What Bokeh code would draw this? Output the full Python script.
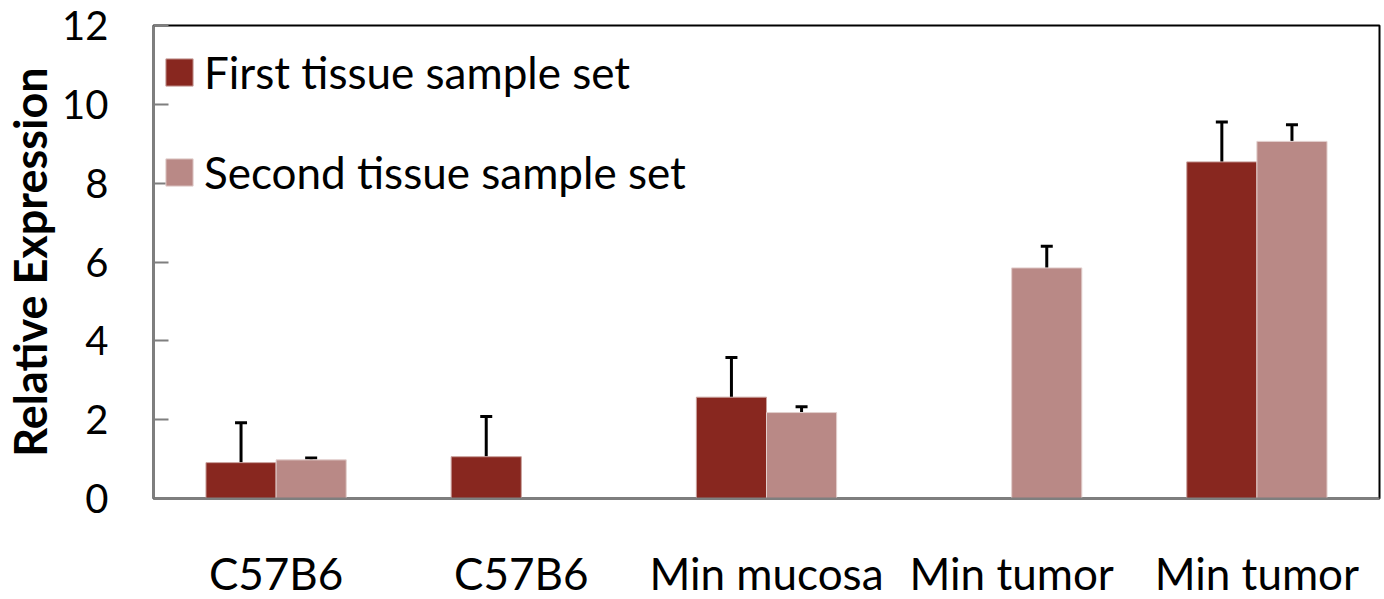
import math
from bokeh.plotting import figure
from bokeh.models import (ColumnDataSource, Whisker, TeeHead, FixedTicker,
                          Legend, LegendItem)
from bokeh.transform import dodge
from bokeh.embed import file_html
from bokeh.resources import INLINE

categories = ["C57B6", "C57B6", "Min mucosa", "Min tumor", "Min tumor"]
first_vals = [0.91, 1.06, 2.57, None, 8.54]
first_err = [1.01, 1.02, 1.01, None, 1.01]
second_vals = [0.98, None, 2.18, 5.85, 9.06]
second_err = [0.05, None, 0.15, 0.55, 0.42]
y_ticks = [0, 2, 4, 6, 8, 10, 12]
series_names = ["First tissue sample set", "Second tissue sample set"]
colors = ["#88271F", "#B98986"]

FONT = "Lato"
BAR_W = 0.286


def make_source(vals, errs):
    xs, tops, uppers = [], [], []
    for i, (v, e) in enumerate(zip(vals, errs)):
        if v is None:
            continue
        xs.append(i + 0.5)
        tops.append(v)
        uppers.append(v + e)
    return ColumnDataSource(dict(x=xs, top=tops, upper=uppers))


src1 = make_source(first_vals, first_err)
src2 = make_source(second_vals, second_err)

p = figure(frame_width=1226, frame_height=473, x_range=(0, 5), y_range=(0, 12),
           output_backend="svg", toolbar_location=None,
           min_border_left=150, min_border_top=25, min_border_right=5,
           min_border_bottom=0)

r1 = p.vbar(x=dodge("x", -BAR_W / 2, range=p.x_range), top="top", width=BAR_W,
            source=src1, fill_color=colors[0], line_color="#c9a09c", line_width=1)
r2 = p.vbar(x=dodge("x", BAR_W / 2, range=p.x_range), top="top", width=BAR_W,
            source=src2, fill_color=colors[1], line_color="#e2cfcd", line_width=1)

for src, off in ((src1, -BAR_W / 2), (src2, BAR_W / 2)):
    w = Whisker(base=dodge("x", off, range=p.x_range), lower="top", upper="upper",
                source=src, line_color="black", line_width=3,
                upper_head=TeeHead(size=12, line_width=3, line_color="black"),
                lower_head=None)
    p.add_layout(w)

p.xgrid.visible = False
p.ygrid.visible = False
p.outline_line_color = "black"
p.outline_line_width = 2
p.background_fill_color = "white"
p.border_fill_color = "white"

# y axis
p.yaxis.ticker = FixedTicker(ticks=y_ticks)
p.yaxis.minor_tick_line_color = None
p.yaxis.major_tick_in = 15
p.yaxis.major_tick_out = 0
p.yaxis.major_tick_line_color = "#7f7f7f"
p.yaxis.major_tick_line_width = 2
p.yaxis.axis_line_color = "#7f7f7f"
p.yaxis.axis_line_width = 2
p.yaxis.major_label_text_font = FONT
p.yaxis.major_label_text_font_size = "40px"
p.yaxis.major_label_text_color = "black"
p.yaxis.major_label_standoff = 45
p.yaxis.axis_label = "Relative Expression"
p.yaxis.axis_label_text_font = FONT
p.yaxis.axis_label_text_font_size = "45px"
p.yaxis.axis_label_text_font_style = "bold"
p.yaxis.axis_label_text_color = "black"
p.yaxis.axis_label_standoff = 2

# x axis
p.xaxis.ticker = FixedTicker(ticks=[i + 0.5 for i in range(len(categories))])
p.xaxis.major_label_overrides = {i + 0.5: c for i, c in enumerate(categories)}
p.xaxis.minor_tick_line_color = None
p.xaxis.major_tick_line_color = None
p.xaxis.axis_line_color = "#7f7f7f"
p.xaxis.axis_line_width = 2
p.xaxis.major_label_text_font = FONT
p.xaxis.major_label_text_font_size = "44px"
p.xaxis.major_label_text_color = "black"
p.xaxis.major_label_standoff = 42

legend = Legend(items=[LegendItem(label=series_names[0], renderers=[r1]),
                       LegendItem(label=series_names[1], renderers=[r2])],
                location=(9, 300), orientation="vertical",
                glyph_width=34, glyph_height=34, label_height=27,
                spacing=48, padding=0, margin=0, label_standoff=8,
                label_text_font=FONT, label_text_font_size="44px",
                label_text_color="black",
                border_line_color=None, background_fill_alpha=0)
p.add_layout(legend)

open("out.html", "w").write(file_html(p, INLINE))
